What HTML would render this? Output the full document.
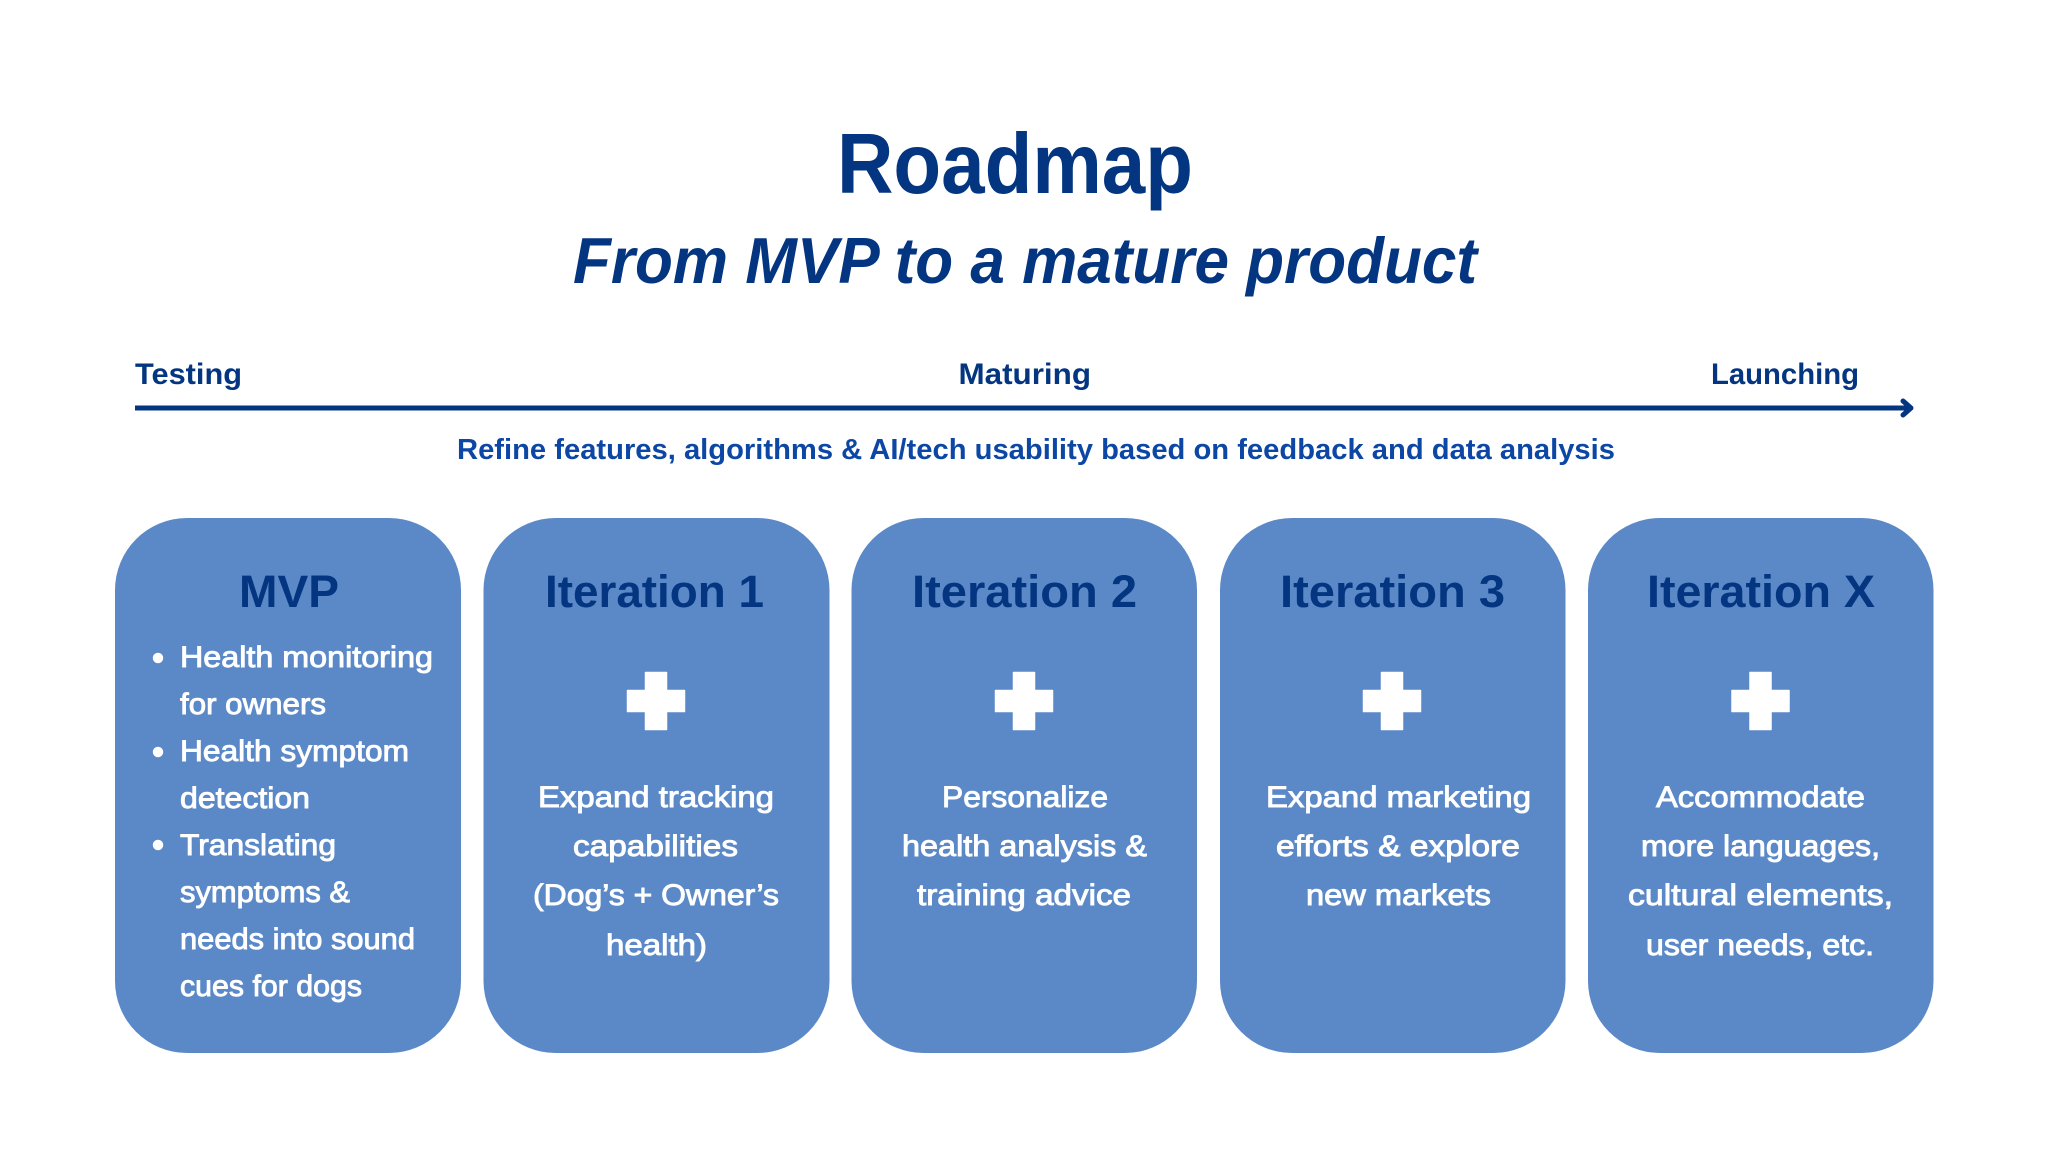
<!DOCTYPE html>
<html><head><meta charset="utf-8"><style>
html,body{margin:0;padding:0;background:#fff;width:2048px;height:1152px;overflow:hidden}
svg{display:block}
text{font-family:"Liberation Sans",sans-serif}
.t{font-weight:700;fill:#033580}
.b{fill:#fff;font-size:30px;stroke:#fff;stroke-width:.9px}
.h{font-weight:700;font-size:45px;fill:#033580}
</style></head><body>
<svg width="2048" height="1152" viewBox="0 0 2048 1152" xmlns="http://www.w3.org/2000/svg">
<rect width="2048" height="1152" fill="#fff"/>
<text class="t" x="837" y="193" font-size="85" textLength="356" lengthAdjust="spacingAndGlyphs">Roadmap</text>
<text class="t" x="573" y="283" font-size="65" font-style="italic" textLength="904" lengthAdjust="spacingAndGlyphs">From MVP to a mature product</text>
<text class="t" x="135" y="384" font-size="30" textLength="107" lengthAdjust="spacingAndGlyphs">Testing</text>
<text class="t" x="958.5" y="384" font-size="30" textLength="132.5" lengthAdjust="spacingAndGlyphs">Maturing</text>
<text class="t" x="1711" y="384" font-size="30" textLength="148" lengthAdjust="spacingAndGlyphs">Launching</text>
<rect x="135" y="405.5" width="1775" height="5" fill="#033580"/>
<path d="M1903 401 L1911 408 L1903 415" fill="none" stroke="#033580" stroke-width="5" stroke-linecap="round" stroke-linejoin="round"/>
<text x="457" y="459" font-size="29" font-weight="700" fill="#0c47a5" textLength="1158" lengthAdjust="spacingAndGlyphs">Refine features, algorithms &amp; AI/tech usability based on feedback and data analysis</text>

<g fill="#5b89c8">
<rect x="115" y="518" width="346" height="535" rx="72"/>
<rect x="483.5" y="518" width="346" height="535" rx="72"/>
<rect x="851.5" y="518" width="345.5" height="535" rx="72"/>
<rect x="1220" y="518" width="345.5" height="535" rx="72"/>
<rect x="1588" y="518" width="345.5" height="535" rx="72"/>
</g>

<text class="h" x="239" y="607" textLength="100" lengthAdjust="spacingAndGlyphs">MVP</text>
<text class="h" x="545" y="607" textLength="219" lengthAdjust="spacingAndGlyphs">Iteration 1</text>
<text class="h" x="912" y="607" textLength="225" lengthAdjust="spacingAndGlyphs">Iteration 2</text>
<text class="h" x="1280" y="607" textLength="225" lengthAdjust="spacingAndGlyphs">Iteration 3</text>
<text class="h" x="1647" y="607" textLength="228" lengthAdjust="spacingAndGlyphs">Iteration X</text>

<g fill="#fff" stroke="#fff" stroke-width="1.5" stroke-linejoin="round">
<circle cx="158" cy="658" r="4.5"/><circle cx="158" cy="752" r="4.5"/><circle cx="158" cy="845" r="4.5"/>
<path d="M645.5 672.5h21v18h18v21h-18v18h-21v-18h-18v-21h18z"/>
<path d="M1013.5 672.5h21v18h18v21h-18v18h-21v-18h-18v-21h18z"/>
<path d="M1381.5 672.5h21v18h18v21h-18v18h-21v-18h-18v-21h18z"/>
<path d="M1750 672.5h21v18h18v21h-18v18h-21v-18h-18v-21h18z"/>
</g>

<text class="b" x="180" y="667" textLength="253" lengthAdjust="spacingAndGlyphs">Health monitoring</text>
<text class="b" x="180" y="714" textLength="146" lengthAdjust="spacingAndGlyphs">for owners</text>
<text class="b" x="180" y="761" textLength="229" lengthAdjust="spacingAndGlyphs">Health symptom</text>
<text class="b" x="180" y="808" textLength="130" lengthAdjust="spacingAndGlyphs">detection</text>
<text class="b" x="180" y="855" textLength="156" lengthAdjust="spacingAndGlyphs">Translating</text>
<text class="b" x="180" y="902" textLength="170" lengthAdjust="spacingAndGlyphs">symptoms &amp;</text>
<text class="b" x="180" y="949" textLength="235" lengthAdjust="spacingAndGlyphs">needs into sound</text>
<text class="b" x="180" y="996" textLength="182" lengthAdjust="spacingAndGlyphs">cues for dogs</text>

<text class="b" x="538" y="807" textLength="236" lengthAdjust="spacingAndGlyphs">Expand tracking</text>
<text class="b" x="573" y="856" textLength="165" lengthAdjust="spacingAndGlyphs">capabilities</text>
<text class="b" x="533" y="905" textLength="246" lengthAdjust="spacingAndGlyphs">(Dog’s + Owner’s</text>
<text class="b" x="606" y="955" textLength="101" lengthAdjust="spacingAndGlyphs">health)</text>

<text class="b" x="942" y="807" textLength="166" lengthAdjust="spacingAndGlyphs">Personalize</text>
<text class="b" x="902" y="856" textLength="245" lengthAdjust="spacingAndGlyphs">health analysis &amp;</text>
<text class="b" x="917" y="905" textLength="214" lengthAdjust="spacingAndGlyphs">training advice</text>

<text class="b" x="1266" y="807" textLength="265" lengthAdjust="spacingAndGlyphs">Expand marketing</text>
<text class="b" x="1276" y="856" textLength="244" lengthAdjust="spacingAndGlyphs">efforts &amp; explore</text>
<text class="b" x="1306" y="905" textLength="185" lengthAdjust="spacingAndGlyphs">new markets</text>

<text class="b" x="1656" y="807" textLength="209" lengthAdjust="spacingAndGlyphs">Accommodate</text>
<text class="b" x="1641" y="856" textLength="239" lengthAdjust="spacingAndGlyphs">more languages,</text>
<text class="b" x="1628" y="905" textLength="265" lengthAdjust="spacingAndGlyphs">cultural elements,</text>
<text class="b" x="1646" y="955" textLength="228" lengthAdjust="spacingAndGlyphs">user needs, etc.</text>
</svg>
</body></html>
